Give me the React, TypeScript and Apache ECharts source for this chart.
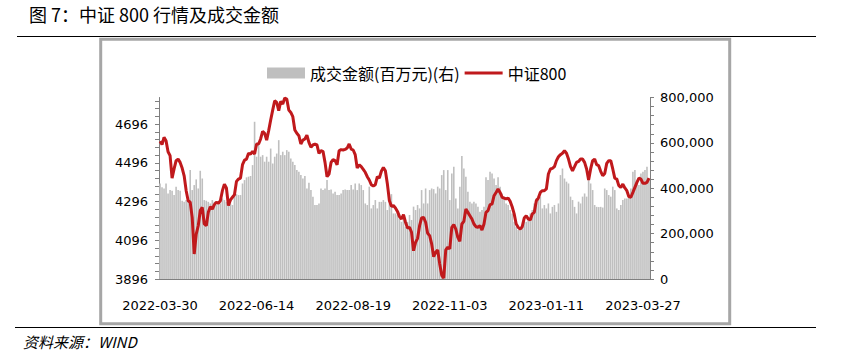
import React, { useEffect, useRef } from 'react';
import * as echarts from 'echarts';

// ---- calendar (SSE trading days) ----
const firstDay = '2022-03-30';
const lastDay = '2023-03-30';
const holidays = [
  '2022-04-04', '2022-04-05', '2022-05-02', '2022-05-03', '2022-05-04', '2022-06-03',
  '2022-09-12', '2022-10-03', '2022-10-04', '2022-10-05', '2022-10-06', '2022-10-07',
  '2023-01-02', '2023-01-23', '2023-01-24', '2023-01-25', '2023-01-26', '2023-01-27',
];

function buildTradingDays(): string[] {
  const out: string[] = [];
  const [y0, m0, d0] = firstDay.split('-').map(Number);
  const [y1, m1, d1] = lastDay.split('-').map(Number);
  const d = new Date(Date.UTC(y0, m0 - 1, d0));
  const end = Date.UTC(y1, m1 - 1, d1);
  while (d.getTime() <= end) {
    const wd = d.getUTCDay();
    const s = d.toISOString().slice(0, 10);
    if (wd !== 0 && wd !== 6 && holidays.indexOf(s) < 0) out.push(s);
    d.setUTCDate(d.getUTCDate() + 1);
  }
  return out;
}
const categories = buildTradingDays();

// ---- series ----
const csi800 = [
  4607, 4590, 4627, 4610, 4553, 4533, 4417, 4464, 4507, 4515,
  4498, 4469, 4429, 4352, 4300, 4292, 4214, 4025, 4128, 4171,
  4249, 4266, 4180, 4171, 4240, 4269, 4257, 4280, 4292, 4287,
  4300, 4352, 4386, 4366, 4275, 4304, 4318, 4331, 4400, 4412,
  4417, 4486, 4510, 4515, 4545, 4541, 4555, 4541, 4593, 4593,
  4619, 4658, 4648, 4613, 4662, 4717, 4768, 4816, 4808, 4765,
  4813, 4799, 4830, 4825, 4768, 4756, 4734, 4665, 4648, 4636,
  4593, 4613, 4619, 4639, 4601, 4576, 4588, 4593, 4588, 4545,
  4558, 4555, 4498, 4424, 4438, 4498, 4512, 4507, 4486, 4558,
  4564, 4562, 4565, 4572, 4593, 4567, 4562, 4538, 4469, 4486,
  4476, 4462, 4447, 4424, 4407, 4383, 4376, 4383, 4424, 4417,
  4452, 4472, 4455, 4386, 4300, 4271, 4275, 4263, 4245, 4218,
  4206, 4228, 4189, 4159, 4163, 4137, 4042, 4085, 4106, 4171,
  4211, 4214, 4189, 4132, 4120, 4077, 4011, 4034, 4046, 3974,
  3915, 3900, 4046, 4060, 4051, 4163, 4177, 4154, 4111, 4091,
  4180, 4194, 4257, 4240, 4223, 4206, 4180, 4166, 4163, 4171,
  4149, 4180, 4240, 4249, 4280, 4283, 4326, 4343, 4361, 4343,
  4318, 4314, 4309, 4314, 4297, 4269, 4232, 4180, 4163, 4154,
  4166, 4211, 4223, 4206, 4201, 4232, 4240, 4300, 4314, 4343,
  4352, 4352, 4361, 4438, 4464, 4467, 4476, 4507, 4527, 4538,
  4545, 4558, 4545, 4515, 4476, 4455, 4476, 4498, 4503, 4515,
  4515, 4498, 4464, 4407, 4464, 4507, 4515, 4486, 4481, 4452,
  4429, 4441, 4493, 4507, 4507, 4464, 4417, 4412, 4378, 4369,
  4386, 4366, 4352, 4321, 4318, 4343, 4369, 4395, 4417, 4412,
  4390, 4390, 4395, 4417,
];

// turnover, thousand 百万元
const turnoverK = [
  421, 404, 399, 421, 377, 392, 389, 370, 407, 392,
  389, 345, 340, 348, 355, 480, 392, 414, 439, 399,
  477, 443, 348, 345, 340, 333, 348, 340, 326, 340,
  333, 355, 348, 340, 333, 333, 326, 363, 374, 370,
  370, 421, 436, 448, 451, 454, 502, 693, 539, 590,
  539, 546, 517, 539, 517, 575, 509, 539, 553, 612,
  546, 561, 546, 568, 561, 531, 517, 502, 480, 473,
  458, 443, 454, 399, 424, 392, 363, 326, 326, 333,
  399, 392, 399, 436, 392, 395, 377, 385, 370, 370,
  377, 392, 395, 392, 392, 414, 395, 421, 392, 421,
  414, 392, 333, 326, 407, 311, 326, 348, 311, 340,
  340, 348, 340, 304, 333, 374, 289, 289, 282, 267,
  252, 267, 230, 252, 282, 260, 319, 304, 326, 311,
  392, 333, 399, 333, 392, 399, 396, 377, 407, 399,
  458, 480, 392, 480, 348, 465, 495, 355, 311, 407,
  542, 487, 451, 385, 341, 333, 341, 333, 318, 296,
  304, 318, 448, 436, 473, 465, 443, 414, 448, 407,
  377, 363, 333, 326, 304, 289, 252, 230, 216, 223,
  238, 260, 252, 274, 289, 304, 333, 355, 348, 363,
  311, 326, 311, 333, 289, 318, 326, 296, 333, 458,
  487, 443, 429, 421, 363, 348, 318, 289, 341, 333,
  363, 377, 363, 436, 421, 392, 326, 318, 317, 318,
  315, 399, 392, 370, 363, 407, 392, 311, 304, 326,
  348, 355, 355, 360, 399, 473, 480, 421, 414, 465,
  473, 480, 495, 443,
];
const turnover = turnoverK.map((v) => v * 1000);

// ---- axis ticks / labels ----
const leftLabelValues = [3896, 4096, 4296, 4496, 4696];
const leftTickValues: number[] = [];
for (let v = 3896; v <= 4816; v += 40) leftTickValues.push(v);
const rightLabelValues = [0, 200000, 400000, 600000, 800000];
const rightTickValues: number[] = [];
for (let v = 0; v <= 800000; v += 40000) rightTickValues.push(v);

const barName = '成交金额(百万元)(右)';
const lineName = '中证800';
const titleText = '图 7：中证 800 行情及成交金额';
const sourceText = '资料来源：WIND';

const numFont = 'DejaVu Sans';
const cjkFont = 'Noto Sans CJK SC';
const lineColor = '#C0191C';

function fmtThousands(v: number): string {
  return String(Math.round(v)).replace(/\B(?=(\d{3})+(?!\d))/g, ',');
}

export default function App() {
  const ref = useRef<HTMLDivElement>(null);
  useEffect(() => {
    if (!ref.current) return;
    const chart = echarts.init(ref.current, null, { renderer: 'svg' });
    const axisColor = '#7f7f7f';
    chart.setOption({
      animation: false,
      backgroundColor: '#ffffff',
      grid: { left: 159, right: 193, top: 97.5, bottom: 76 },
      legend: {
        left: 262,
        top: 60,
        itemWidth: 38,
        itemHeight: 11,
        itemGap: 5,
        textStyle: { fontSize: 16, fontFamily: cjkFont, color: '#000' },
        data: [
          { name: barName, icon: 'rect' },
          {
            name: lineName,
            icon: 'path://M0 0L0.01 0M0 4L40 4L40 7L0 7ZM0 11L0.01 11',
            itemStyle: { color: lineColor },
          },
        ],
      },
      xAxis: {
        type: 'category',
        data: categories,
        boundaryGap: true,
        axisLine: { lineStyle: { color: axisColor, width: 1 } },
        axisTick: { interval: 23, length: 4, lineStyle: { color: axisColor } },
        axisLabel: {
          interval: 47,
          margin: 20,
          fontFamily: numFont,
          fontSize: 13,
          color: '#000',
        },
        splitLine: { show: false },
      },
      yAxis: [
        {
          type: 'value',
          position: 'left',
          min: 3896,
          max: 4833,
          axisLine: { show: true, lineStyle: { color: axisColor, width: 1 } },
          axisTick: { show: true, length: 4, customValues: leftTickValues, lineStyle: { color: axisColor } },
          axisLabel: {
            customValues: leftLabelValues,
            margin: 11,
            fontFamily: numFont,
            fontSize: 13,
            color: '#000',
            formatter: (v: number) => String(v),
          },
          splitLine: { show: false },
        },
        {
          type: 'value',
          position: 'right',
          min: 0,
          max: 800000,
          axisLine: { show: true, lineStyle: { color: axisColor, width: 1 } },
          axisTick: { show: true, length: 4, customValues: rightTickValues, lineStyle: { color: axisColor } },
          axisLabel: {
            customValues: rightLabelValues,
            margin: 10,
            fontFamily: numFont,
            fontSize: 13,
            color: '#000',
            formatter: (v: number) => fmtThousands(v),
          },
          splitLine: { show: false },
        },
      ],
      series: [
        {
          name: barName,
          type: 'bar',
          yAxisIndex: 1,
          data: turnover,
          barWidth: 1.6,
          itemStyle: { color: '#BFBFBF' },
          z: 1,
        },
        {
          name: lineName,
          type: 'line',
          yAxisIndex: 0,
          data: csi800,
          symbol: 'none',
          lineStyle: { color: lineColor, width: 3 },
          itemStyle: { color: lineColor },
          z: 3,
        },
      ],
      graphic: [
        {
          type: 'text',
          left: 29,
          top: 5,
          style: { text: titleText, font: `18px "${cjkFont}"`, fill: '#000' },
        },
        {
          type: 'line',
          shape: { x1: 17, y1: 36.5, x2: 816, y2: 36.5 },
          style: { stroke: '#000', lineWidth: 1 },
        },
        {
          type: 'rect',
          shape: { x: 100.7, y: 39.3, width: 629, height: 284.4 },
          style: { stroke: '#A6A6A6', lineWidth: 3, fill: 'none' },
          silent: true,
        },
        {
          type: 'line',
          shape: { x1: 15, y1: 327.5, x2: 816, y2: 327.5 },
          style: { stroke: '#000', lineWidth: 1 },
        },
        {
          type: 'text',
          left: 23,
          top: 334,
          style: { text: sourceText, font: `italic 15px "${cjkFont}"`, fill: '#000' },
        },
      ],
    });
    return () => chart.dispose();
  }, []);
  return (
    <div
      ref={ref}
      style={{ position: 'absolute', left: 0, top: 0, width: 843, height: 355, background: '#fff' }}
    />
  );
}
